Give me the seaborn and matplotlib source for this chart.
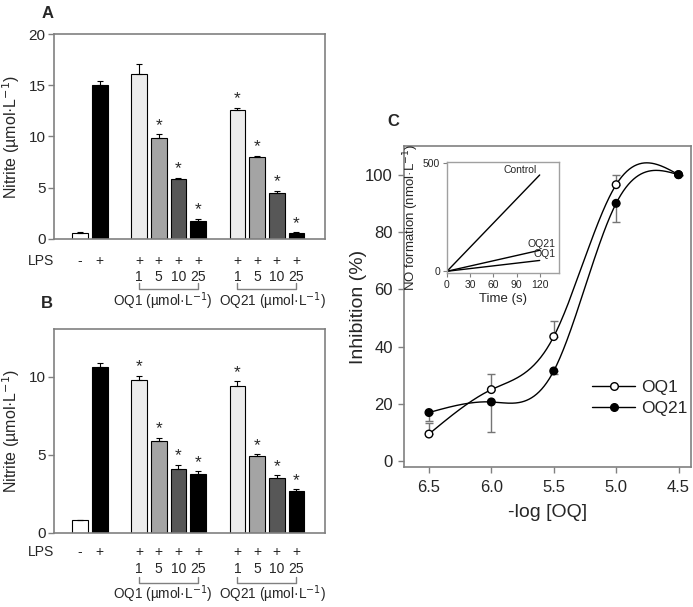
import numpy as np
import pandas as pd
import matplotlib
matplotlib.use("Agg")
import matplotlib.pyplot as plt
import matplotlib.transforms as mtransforms
from matplotlib.lines import Line2D
import seaborn as sns

sns.set_theme(style="white")
plt.rcParams["font.family"] = ["Liberation Sans", "DejaVu Sans"]

# ---------------- data ----------------
bar_pos = [0, 1, 3, 4, 5, 6, 8, 9, 10, 11]
lps_labels = ["-", "+", "+", "+", "+", "+", "+", "+", "+", "+"]
conc_labels = ["", "", "1", "5", "10", "25", "1", "5", "10", "25"]
bar_colors = ["#ffffff", "#000000", "#ececec", "#a4a4a4", "#575757", "#000000",
              "#ececec", "#a4a4a4", "#575757", "#000000"]

a_vals = [0.6, 15.0, 16.1, 9.9, 5.9, 1.8, 12.6, 8.0, 4.5, 0.6]
a_err = [0.05, 0.4, 1.0, 0.3, 0.05, 0.15, 0.2, 0.1, 0.2, 0.05]
a_star = [False, False, False, True, True, True, True, True, True, True]

b_vals = [0.8, 10.6, 9.8, 5.9, 4.1, 3.8, 9.4, 4.95, 3.5, 2.7]
b_err = [0.05, 0.25, 0.25, 0.2, 0.25, 0.15, 0.3, 0.08, 0.2, 0.1]
b_star = [False, False, True, True, True, True, True, True, True, True]

group_names = ["OQ1 (\u00b5mol\u00b7L$^{-1}$)", "OQ21 (\u00b5mol\u00b7L$^{-1}$)"]

log_oq = [6.5, 6.0, 5.5, 5.0, 4.5]
oq1_inh = [9.5, 25.0, 43.5, 96.5, 100.0]
oq1_err = [4.0, 5.5, 5.5, 3.5, 0.0]
oq21_inh = [17.0, 20.7, 31.5, 90.0, 100.0]
oq21_err = [3.0, 10.6, 1.0, 6.5, 0.0]

inset_time = [0, 120]
inset_control = [0, 445]
inset_oq21 = [0, 97]
inset_oq1 = [0, 50]

W, H = 693, 607
fig = plt.figure(figsize=(W / 100, H / 100), dpi=100)


def px_axes(left, top, right, bottom):
    return fig.add_axes([left / W, 1 - bottom / H, (right - left) / W, (bottom - top) / H])


GRAY = "#808080"


def style_frame(ax):
    for s in ax.spines.values():
        s.set_visible(True)
        s.set_color(GRAY)
        s.set_linewidth(1.2)


def bar_panel(ax, vals, errs, stars, ylim, yticks, rows_y):
    df = pd.DataFrame({"pos": bar_pos, "val": vals, "key": [str(i) for i in range(len(vals))]})
    pal = {str(i): c for i, c in enumerate(bar_colors)}
    sns.barplot(data=df, x="pos", y="val", hue="key", palette=pal, native_scale=True,
                dodge=False, width=0.8, edgecolor="black", linewidth=0.8,
                errorbar=None, legend=False, ax=ax, saturation=1)
    ax.errorbar(bar_pos, vals, yerr=[np.zeros(len(errs)), errs], fmt="none",
                ecolor="black", elinewidth=0.8, capsize=2.5, capthick=0.8, zorder=1)
    for p, v, e, s in zip(bar_pos, vals, errs, stars):
        if s:
            ax.annotate("*", (p, v + e), xytext=(0, 1), textcoords="offset points",
                        ha="center", va="bottom", fontsize=12.5)
    ax.set_xlim(-1.32, 12.45)
    ax.set_ylim(*ylim)
    ax.set_yticks(yticks)
    ax.set_xticks([])
    ax.set_xlabel("")
    ax.set_ylabel("Nitrite (\u00b5mol\u00b7L$^{-1}$)", fontsize=11.5, labelpad=5)
    style_frame(ax)
    ax.tick_params(axis="y", direction="out", length=4, width=1, color=GRAY,
                   labelsize=11, pad=2, left=True)
    tr = mtransforms.blended_transform_factory(ax.transData, ax.transAxes)
    lps_y, conc_y, br_y, grp_y = rows_y
    ax.text(-2.0, lps_y, "LPS", transform=tr, ha="center", va="center", fontsize=10)
    for p, l, c in zip(bar_pos, lps_labels, conc_labels):
        ax.text(p, lps_y, l, transform=tr, ha="center", va="center", fontsize=10)
        if c:
            ax.text(p, conc_y, c, transform=tr, ha="center", va="center", fontsize=10)
    for (x0, x1), name, cx in zip([(3, 6), (8, 11)], group_names, [4.2, 9.8]):
        ax.plot([x0, x0, x1, x1], [br_y + 0.03, br_y, br_y, br_y + 0.03], color=GRAY,
                lw=1, transform=tr, clip_on=False)
        ax.text(cx, grp_y, name, transform=tr, ha="center", va="center", fontsize=9.8)


axA = px_axes(54, 34, 325, 239)
bar_panel(axA, a_vals, a_err, a_star, (0, 20), [0, 5, 10, 15, 20],
          (-0.105, -0.185, -0.243, -0.305))
axB = px_axes(54, 329, 325, 533)
bar_panel(axB, b_vals, b_err, b_star, (0, 13.05), [0, 5, 10],
          (-0.092, -0.175, -0.247, -0.30))

fig.text(48 / W, 1 - 14 / H, "A", fontsize=12, fontweight="bold", ha="center", va="center")
fig.text(47 / W, 1 - 303 / H, "B", fontsize=12, fontweight="bold", ha="center", va="center")
fig.text(393 / W, 1 - 122 / H, "C", fontsize=12, fontweight="bold", ha="center", va="center")


# ---------------- panel C ----------------
def natural_spline(x, y, n=300):
    x = np.asarray(x, float)
    y = np.asarray(y, float)
    order = np.argsort(x)
    x, y = x[order], y[order]
    k = len(x)
    h = np.diff(x)
    A = np.zeros((k, k))
    r = np.zeros(k)
    A[0, 0] = A[-1, -1] = 1
    for i in range(1, k - 1):
        A[i, i - 1] = h[i - 1]
        A[i, i] = 2 * (h[i - 1] + h[i])
        A[i, i + 1] = h[i]
        r[i] = 6 * ((y[i + 1] - y[i]) / h[i] - (y[i] - y[i - 1]) / h[i - 1])
    M = np.linalg.solve(A, r)
    xs = np.linspace(x[0], x[-1], n)
    ys = np.empty_like(xs)
    for j, xv in enumerate(xs):
        i = min(np.searchsorted(x, xv, side="right") - 1, k - 2)
        t0 = x[i + 1] - xv
        t1 = xv - x[i]
        ys[j] = (M[i] * t0 ** 3 / (6 * h[i]) + M[i + 1] * t1 ** 3 / (6 * h[i])
                 + (y[i] / h[i] - M[i] * h[i] / 6) * t0
                 + (y[i + 1] / h[i] - M[i + 1] * h[i] / 6) * t1)
    return xs, ys


axC = px_axes(404, 146, 691, 467)
for vals, errs, sign in [(oq1_inh, oq1_err, 1), (oq21_inh, oq21_err, -1)]:
    ye = [np.zeros(len(errs)), errs] if sign > 0 else [errs, np.zeros(len(errs))]
    axC.errorbar(log_oq, vals, yerr=ye, fmt="none", ecolor="#757575", elinewidth=1,
                 capsize=3, capthick=1, zorder=1)
    xs, ys = natural_spline(log_oq, vals)
    sns.lineplot(x=xs, y=ys, color="black", lw=1, ax=axC, sort=False, zorder=2)

dfc = pd.DataFrame({"x": log_oq * 2, "y": oq1_inh + oq21_inh,
                    "s": ["OQ1"] * 5 + ["OQ21"] * 5})
sns.scatterplot(data=dfc, x="x", y="y", hue="s", palette={"OQ1": "white", "OQ21": "black"},
                edgecolor="black", linewidth=1, s=30, legend=False, ax=axC, zorder=3)

axC.set_xlim(6.7, 4.4)
axC.set_ylim(-2, 110)
axC.set_xticks([6.5, 6.0, 5.5, 5.0, 4.5])
axC.set_xticklabels(["6.5", "6.0", "5.5", "5.0", "4.5"])
axC.set_yticks([0, 20, 40, 60, 80, 100])
axC.set_xlabel("-log [OQ]", fontsize=14, labelpad=6)
axC.set_ylabel("Inhibition (%)", fontsize=14, labelpad=-1)
style_frame(axC)
axC.tick_params(direction="out", length=4.5, width=1, color=GRAY, labelsize=12,
                bottom=True, left=True)
axC.tick_params(axis="x", pad=5)

handles = [Line2D([], [], color="black", lw=1, marker="o", mfc="white", mec="black", ms=5.5),
           Line2D([], [], color="black", lw=1, marker="o", mfc="black", mec="black", ms=5.5)]
axC.legend(handles, ["OQ1", "OQ21"], loc="upper left", bbox_to_anchor=(0.655, 0.27),
           frameon=False, fontsize=12.5, handlelength=2.5, handletextpad=0.35,
           labelspacing=0.3, borderaxespad=0, borderpad=0)

# inset
axI = px_axes(447, 162, 559, 273)
dfi = pd.DataFrame({"t": inset_time * 3, "v": inset_control + inset_oq21 + inset_oq1,
                    "g": ["Control"] * 2 + ["OQ21"] * 2 + ["OQ1"] * 2})
sns.lineplot(data=dfi, x="t", y="v", units="g", estimator=None, color="black", lw=1, ax=axI)
axI.set_xlim(0, 145)
axI.set_ylim(-8, 505)
axI.set_xticks([0, 30, 60, 90, 120])
axI.set_yticks([0, 500])
axI.set_xlabel("Time (s)", fontsize=9.5, labelpad=2)
axI.set_ylabel("NO formation (nmol\u00b7L$^{-1}$)", fontsize=9.5, labelpad=1)
style_frame(axI)
for s in axI.spines.values():
    s.set_color("#a0a0a0")
    s.set_linewidth(1)
axI.tick_params(direction="out", length=3, width=0.8, color=GRAY, labelsize=7.5,
                pad=2, bottom=True, left=True)
axI.text(95, 444, "Control", fontsize=7.5, ha="center", va="bottom")
axI.text(140, 103, "OQ21", fontsize=7.5, ha="right", va="bottom")
axI.text(140, 55, "OQ1", fontsize=7.5, ha="right", va="bottom")

fig.savefig("out.png", dpi=100)
